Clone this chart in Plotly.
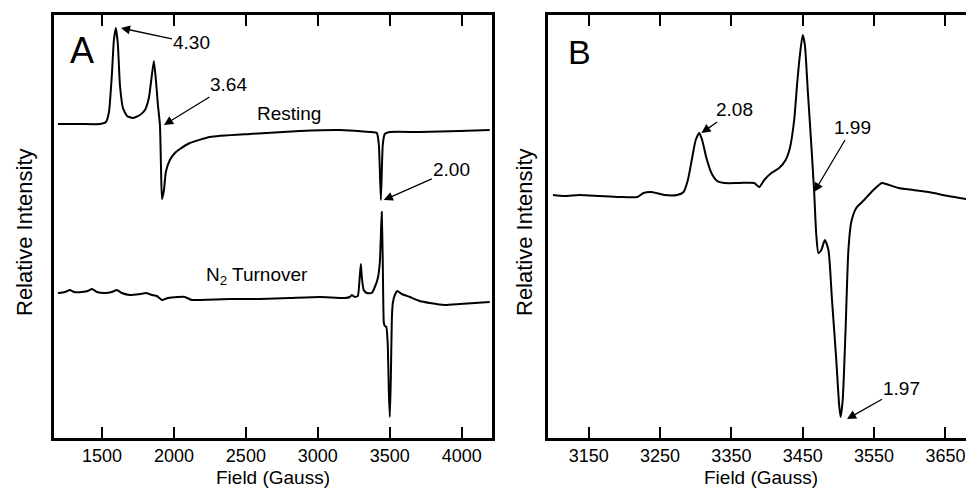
import plotly.graph_objects as go

# ---------------- Data ----------------
# Panel A - resting state
resting_field = [1194, 1347, 1486, 1528, 1549, 1569, 1583, 1597, 1611, 1625, 1646, 1674,
                 1715, 1764, 1799, 1826, 1847, 1861, 1875, 1889, 1903, 1910, 1917, 1931,
                 1944, 1972, 2007, 2042, 2111, 2250, 2528, 2875, 3153, 3361, 3410, 3424,
                 3438, 3451, 3465, 3500, 3708, 3986, 4194]
resting_int = [314, 314, 314, 316, 326, 363, 398, 410, 393, 353, 330, 322,
               320, 323, 328, 340, 363, 377, 358, 333, 313, 273, 239, 248,
               266, 278, 285, 289, 295, 301, 304, 307, 308, 306, 305, 293,
               238, 293, 304, 306, 306, 307, 308]

# Panel A - N2 turnover
turnover_field = [1194, 1243, 1278, 1306, 1361, 1403, 1431, 1465, 1521, 1569, 1604, 1639,
                  1694, 1764, 1806, 1847, 1882, 1917, 1958, 2028, 2076, 2125, 2181, 2389,
                  2597, 2806, 3014, 3188, 3222, 3236, 3257, 3278, 3292, 3299, 3306, 3319,
                  3340, 3375, 3396, 3417, 3431, 3438, 3444, 3451, 3458, 3465, 3476, 3486,
                  3493, 3500, 3507, 3514, 3521, 3535, 3552, 3583, 3639, 3708, 3778, 3882,
                  3986, 4090, 4194]
turnover_int = [145, 146, 148, 146, 146, 147, 149, 146, 145, 146, 148, 145,
                143, 144, 145, 143, 142, 138, 140, 141, 141, 138, 138, 139,
                139, 140, 141, 140, 141, 143, 141, 142, 163, 174, 160, 148,
                145, 145, 151, 160, 176, 203, 226, 178, 116, 112, 111, 93,
                48, 21, 58, 118, 135, 143, 147, 144, 141, 137, 135, 133,
                134, 135, 136]

# Panel B - expanded g~2 region
b_field = [3100, 3116, 3137, 3165, 3193, 3218, 3227, 3238, 3256, 3274, 3283, 3289,
           3295, 3300, 3305, 3309, 3315, 3322, 3330, 3340, 3361, 3382, 3389, 3396,
           3406, 3417, 3426, 3432, 3438, 3442, 3446, 3450, 3453, 3457, 3462, 3466,
           3469, 3472, 3476, 3481, 3486, 3491, 3497, 3501, 3503, 3506, 3510, 3514,
           3518, 3525, 3536, 3549, 3561, 3567, 3584, 3605, 3626, 3654, 3688]
b_int = [243, 242, 243, 242, 241, 241, 245, 246, 243, 243, 246, 258,
         280, 298, 305, 298, 280, 265, 257, 255, 255, 255, 251, 258,
         265, 270, 278, 290, 318, 353, 383, 403, 393, 348, 293, 246,
         203, 185, 188, 198, 188, 138, 78, 33, 21, 38, 108, 188,
         216, 230, 238, 248, 255, 254, 250, 248, 246, 242, 238]

a_ticks = [1500, 2000, 2500, 3000, 3500, 4000]
b_ticks = [3150, 3250, 3350, 3450, 3550, 3650]

# g-value labels: (text, field, intensity at arrow tip, text offset px)
a_labels = [("4.30", 1632, 410, 71, 15),
            ("3.64", 1931, 313, 65, -40),
            ("2.00", 3458, 238, 68, -30)]
b_labels = [("2.08", 3308, 305, 33, -23),
            ("1.99", 3466, 246, 38, -64),
            ("1.97", 3512, 19, 55, -31)]

# ---------------- Figure ----------------
# The page body adds an 8px margin, so the figure is 8px smaller on each side
W, H = 966, 482
OFF = 8
FONT = "Liberation Sans, Arial, sans-serif"

fig = go.Figure()
fig.add_trace(go.Scatter(x=resting_field, y=resting_int, mode="lines",
                         line=dict(color="black", width=2, shape="spline", smoothing=0.45),
                         xaxis="x", yaxis="y", name="Resting", showlegend=False))
fig.add_trace(go.Scatter(x=turnover_field, y=turnover_int, mode="lines",
                         line=dict(color="black", width=2, shape="spline", smoothing=0.4),
                         xaxis="x", yaxis="y", name="N2 Turnover", showlegend=False))
fig.add_trace(go.Scatter(x=b_field, y=b_int, mode="lines",
                         line=dict(color="black", width=2, shape="spline", smoothing=0.6),
                         xaxis="x2", yaxis="y2", name="B", showlegend=False))

common_x = dict(showline=True, linecolor="black", linewidth=2.5, mirror="ticks",
                ticks="inside", ticklen=11, tickwidth=2, tickcolor="black",
                showgrid=False, zeroline=False,
                tickfont=dict(family=FONT, size=18, color="black"),
                title=dict(text="Field (Gauss)", font=dict(family=FONT, size=19, color="black"),
                           standoff=6))
common_y = dict(showline=True, linecolor="black", linewidth=2.5, ticks="",
                showticklabels=False, showgrid=False, zeroline=False,
                range=[0, 423])

ydom = [1 - (438 - OFF) / H, 1 - (15 - OFF) / H]
fig.update_layout(
    width=W, height=H,
    margin=dict(l=0, r=0, t=0, b=0),
    paper_bgcolor="white", plot_bgcolor="white",
    font=dict(family=FONT, color="black"),
    xaxis=dict(domain=[(54 - OFF) / W, (492 - OFF) / W], range=[1167, 4210],
               tickvals=a_ticks, anchor="y", **common_x),
    yaxis=dict(domain=ydom, anchor="x", mirror=True, **common_y),
    xaxis2=dict(domain=[(548 - OFF) / W, 1.0], range=[3093, 3690],
                tickvals=b_ticks, anchor="y2", **common_x),
    yaxis2=dict(domain=ydom, anchor="x2", mirror=False, **common_y),
)

ann_font = dict(family=FONT, size=19, color="black")
arrow_style = dict(showarrow=True, arrowhead=2, arrowsize=1.4, arrowwidth=1.3,
                   arrowcolor="black", font=ann_font, xanchor="center", yanchor="middle")
for text, fx, fy, ax, ay in a_labels:
    fig.add_annotation(x=fx, y=fy, xref="x", yref="y", text=text, ax=ax, ay=ay, **arrow_style)
for text, fx, fy, ax, ay in b_labels:
    fig.add_annotation(x=fx, y=fy, xref="x2", yref="y2", text=text, ax=ax, ay=ay, **arrow_style)

plain = dict(showarrow=False, xanchor="center", yanchor="middle")
fig.add_annotation(x=2799, y=324, xref="x", yref="y", text="Resting", font=ann_font, **plain)
fig.add_annotation(x=2576, y=162, xref="x", yref="y", text="N<sub>2</sub> Turnover",
                   font=ann_font, **plain)

fig.add_annotation(x=0.064, y=0.915, xref="x domain", yref="y domain", text="A",
                   font=dict(family=FONT, size=36, color="black"), **plain)
fig.add_annotation(x=0.075, y=0.913, xref="x2 domain", yref="y2 domain", text="B",
                   font=dict(family=FONT, size=34, color="black"), **plain)

yt_font = dict(family=FONT, size=22, color="black")
for px in (24, 524):
    fig.add_annotation(x=(px - OFF) / W, y=1 - (232 - OFF) / H, xref="paper", yref="paper",
                       text="Relative Intensity", textangle=-90, font=yt_font, **plain)

fig.write_html("out.html")
